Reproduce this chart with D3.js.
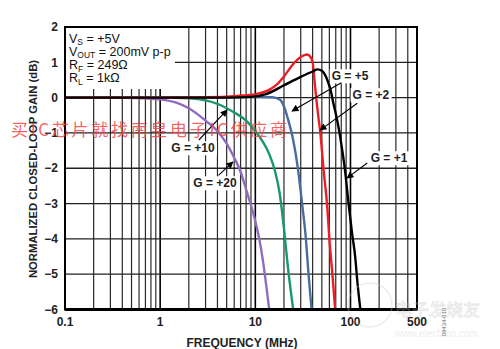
<!DOCTYPE html>
<html><head><meta charset="utf-8">
<script src="https://cdn.jsdelivr.net/npm/d3@7/dist/d3.min.js"></script>
<style>body{margin:0;background:#fff}svg{display:block}</style>
</head><body>
<svg id="c" width="500" height="349"></svg>
<script>
// ---- data ----
const xTicks = [0.1, 1, 10, 100, 500];
const xTickLabels = ["0.1", "1", "10", "100", "500"];
const yTicks = [2, 1, 0, -1, -2, -3, -4, -5, -6];
const yTickLabels = ["2", "1", "0", "\u22121", "\u22122", "\u22123", "\u22124", "\u22125", "\u22126"];
const xGrid = [0.2,0.3,0.4,0.5,0.6,0.7,0.8,0.9,1,2,3,4,5,6,7,8,9,10,20,30,40,50,60,70,80,90,100,200,300,400];
const yGrid = [1, 0, -1, -2, -3, -4, -5];

const g20Freq = [0.1, 0.3, 0.5, 0.7, 1, 1.5, 2, 3, 4, 5, 6, 7, 8, 10, 11, 12, 13, 14];
const g20Gain = [0, 0, -0.01, -0.02, -0.05, -0.15, -0.3, -0.65, -0.95, -1.3, -1.7, -2.1, -2.6, -3.5, -4.0, -4.6, -5.3, -6];
const g10Freq = [0.1, 1, 2, 3, 4, 5, 6, 8, 10, 12, 14, 16, 18, 20, 22, 25];
const g10Gain = [0, 0, -0.02, -0.08, -0.18, -0.3, -0.42, -0.65, -0.95, -1.25, -1.6, -2.05, -2.7, -3.7, -4.8, -6];
const g5Freq = [0.1, 1, 5, 10, 15, 18, 20, 22, 25, 28, 31, 34, 36, 39];
const g5Gain = [0, 0, 0.01, 0.02, 0.01, -0.05, -0.25, -0.6, -1.2, -2.0, -3.0, -4.0, -4.9, -6];
const g2Freq = [0.1, 1, 3, 6.5, 10, 14, 17, 20, 25, 30, 35, 38, 40, 42, 44, 46, 48, 52, 57, 60, 65, 69];
const g2Gain = [0, 0, 0.01, 0.05, 0.1, 0.22, 0.38, 0.6, 0.95, 1.15, 1.22, 1.15, 1.0, 0.45, -0.1, -0.55, -0.95, -2.0, -3.1, -4.0, -5.1, -6];
const g1Freq = [0.1, 1, 5, 9, 13, 20, 30, 40, 45, 50, 58, 62, 66, 70, 75, 82, 88, 95, 104, 112, 118, 127];
const g1Gain = [0, 0, 0, 0.02, 0.1, 0.35, 0.59, 0.74, 0.8, 0.76, 0.45, 0.2, -0.15, -0.45, -0.85, -1.5, -2.1, -2.95, -3.85, -4.5, -5.2, -6];

const seriesNames = ["G = +20", "G = +10", "G = +5", "G = +2", "G = +1"];
const seriesColors = ["#8f6cc0", "#18996b", "#4a6b9e", "#ee1c25", "#000000"];
const seriesFreq = [g20Freq, g10Freq, g5Freq, g2Freq, g1Freq];
const seriesGain = [g20Gain, g10Gain, g5Gain, g2Gain, g1Gain];

// annotations: label centre, arrow start and arrow tip, in data units (MHz, dB)
const annLabels = ["G = +5", "G = +2", "G = +1", "G = +10", "G = +20"];
const annText = [[99, 0.61], [164, 0.075], [254, -1.71], [2.21, -1.43], [3.77, -2.42]];
const annFrom = [[80, 0.42], [118, -0.16], [150, -1.85], [2.55, -1.2], [4.1, -2.2]];
const annTo = [[24.3, -0.38], [47.9, -0.92], [91.9, -2.28], [5.04, -0.35], [5.82, -1.82]];

const conditions = [["V","S"," = +5V"], ["V","OUT"," = 200mV p-p"], ["R","F"," = 249\u03A9"], ["R","L"," = 1k\u03A9"]];

// ---- layout ----
const L = 65, R = 417, T = 27, B = 309.5;
const svg = d3.select("#c");
const x = d3.scaleLog().domain([0.1, 500]).range([L, R]);
const y = d3.scaleLinear().domain([-6, 2]).range([B, T]);
const font = "'Liberation Sans', Arial, sans-serif";

// grid
svg.append("g").selectAll("line").data(xGrid).join("line")
  .attr("x1", d => x(d)).attr("x2", d => x(d)).attr("y1", T).attr("y2", B)
  .attr("stroke", d => (d === 1 || d === 10 || d === 100) ? "#000" : "#2a2a2a")
  .attr("stroke-width", d => (d === 1 || d === 10 || d === 100) ? 1.6 : 1.2);
svg.append("g").selectAll("line").data(yGrid).join("line")
  .attr("x1", L).attr("x2", R).attr("y1", d => y(d)).attr("y2", d => y(d))
  .attr("stroke", "#222").attr("stroke-width", 1.3);

// condition box (white)
svg.append("rect").attr("x", L + 1).attr("y", T + 1).attr("width", 109).attr("height", 61).attr("fill", "#fff");
const ct = svg.append("g").attr("font-family", font).attr("font-size", 12.5).attr("fill", "#111");
conditions.forEach((c, i) => {
  const t = ct.append("text").attr("x", 69).attr("y", 42.5 + i * 13.3);
  t.append("tspan").text(c[0]);
  t.append("tspan").attr("font-size", 8.5).attr("dy", 2.5).text(c[1]);
  t.append("tspan").attr("dy", -2.5).text(c[2]);
});

// clip
svg.append("clipPath").attr("id", "clip").append("rect").attr("x", L).attr("y", T).attr("width", R - L).attr("height", B - T);

const line = d3.line().x(d => x(d[0])).y(d => y(d[1])).curve(d3.curveMonotoneX);
const cg = svg.append("g").attr("clip-path", "url(#clip)");
seriesFreq.forEach((fs, i) => {
  const pts = fs.map((f, j) => [f, seriesGain[i][j]]);
  cg.append("path").attr("d", line(pts)).attr("fill", "none")
    .attr("stroke", seriesColors[i]).attr("stroke-width", 2.4).attr("stroke-linejoin", "round");
});

// annotations
svg.append("defs").append("marker").attr("id", "ah").attr("viewBox", "0 0 10 10")
  .attr("refX", 9).attr("refY", 5).attr("markerWidth", 10).attr("markerHeight", 7)
  .attr("orient", "auto").attr("markerUnits", "userSpaceOnUse")
  .append("path").attr("d", "M0,0 L10,5 L0,10 Z").attr("fill", "#000");
const ag = svg.append("g").attr("font-family", font).attr("font-size", 12).attr("font-weight", "bold");
annLabels.forEach((lab, i) => {
  const tx = x(annText[i][0]), ty = y(annText[i][1]);
  const t = ag.append("text").attr("x", tx).attr("y", ty).attr("text-anchor", "middle").attr("dy", "0.35em").attr("fill", "#222").text(lab);
  const bb = t.node().getBBox();
  ag.insert("rect", "text").attr("x", bb.x - 2).attr("y", bb.y).attr("width", bb.width + 4).attr("height", bb.height).attr("fill", "#fff");
  ag.append("line").attr("x1", x(annFrom[i][0])).attr("y1", y(annFrom[i][1]))
    .attr("x2", x(annTo[i][0])).attr("y2", y(annTo[i][1]))
    .attr("stroke", "#000").attr("stroke-width", 1.1).attr("marker-end", "url(#ah)");
});

// frame
svg.append("rect").attr("x", L).attr("y", T).attr("width", R - L).attr("height", B - T)
  .attr("fill", "none").attr("stroke", "#000").attr("stroke-width", 2);
svg.append("line").attr("x1", L).attr("x2", R).attr("y1", B).attr("y2", B).attr("stroke", "#000").attr("stroke-width", 3);

// tick labels
const tg = svg.append("g").attr("font-family", font).attr("font-size", 12).attr("font-weight", "bold").attr("fill", "#222");
yTicks.forEach((v, i) => {
  tg.append("text").attr("x", 58).attr("y", y(v)).attr("dy", "0.35em").attr("text-anchor", "end").text(yTickLabels[i]);
});
xTicks.forEach((v, i) => {
  tg.append("text").attr("x", x(v)).attr("y", 326).attr("text-anchor", "middle").text(xTickLabels[i]);
});

// axis titles
svg.append("text").attr("x", 242).attr("y", 347).attr("text-anchor", "middle")
  .attr("font-family", font).attr("font-size", 12).attr("font-weight", "bold").attr("fill", "#222").text("FREQUENCY (MHz)");
svg.append("text").attr("transform", "translate(37,169) rotate(-90)").attr("text-anchor", "middle")
  .attr("font-family", font).attr("font-size", 11.3).attr("font-weight", "bold").attr("fill", "#222").text("NORMALIZED CLOSED-LOOP GAIN (dB)");

// figure id
svg.append("text").attr("transform", "translate(446,322) rotate(-90)").attr("text-anchor", "middle")
  .attr("font-family", font).attr("font-size", 6).attr("fill", "#666").text("09434-010");

// watermarks
const wm = svg.append("g").attr("opacity", 0.35);
wm.append("circle").attr("cx", 370).attr("cy", 305).attr("r", 22).attr("fill", "none").attr("stroke", "#ccc").attr("stroke-width", 1.5);
wm.append("text").attr("x", 395).attr("y", 316).attr("font-family", "'Noto Sans CJK SC'").attr("font-size", 17).attr("fill", "none").attr("stroke", "#bbb").attr("stroke-width", 0.8).text("电子发烧友");
wm.append("text").attr("x", 395).attr("y", 337).attr("font-family", font).attr("font-size", 10).attr("fill", "#ccc").text("www.elecfans.com");
svg.append("text").attr("x", 11).attr("y", 136).attr("font-family", "'Noto Sans CJK SC', sans-serif").attr("font-size", 17)
  .attr("fill", "#f04848").attr("fill-opacity", 0.85).attr("textLength", 276).attr("lengthAdjust", "spacing")
  .text("买IC芯片就找南皇电子IC供应商");
</script>
</body></html>
